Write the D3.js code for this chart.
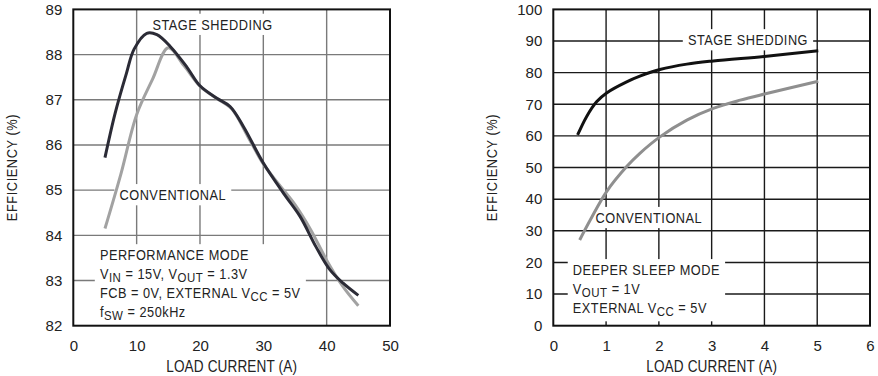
<!DOCTYPE html>
<html>
<head>
<meta charset="utf-8">
<script src="https://cdn.jsdelivr.net/npm/d3@7"></script>
<style>
	body { margin: 0; background: #fff; }
	svg text { font-family: "Liberation Sans", Arial, sans-serif; fill: #222; }
</style>
</head>
<body>
<div id="chart"></div>
<script>
// Left panel: performance mode (load current in A, efficiency in %)
const perfXTicks = [0, 10, 20, 30, 40, 50];
const perfYTicks = [82, 83, 84, 85, 86, 87, 88, 89];
const perfStageLoad = [5, 6.6, 8.4, 9.6, 11.6, 13.2, 15.3, 17.9, 20, 22.6, 24.75, 26.85, 30, 33.2, 35.8, 38.3, 40.5, 42.6, 45];
const perfStageEff  = [85.72, 86.7, 87.59, 88.12, 88.47, 88.44, 88.18, 87.73, 87.31, 87.04, 86.85, 86.41, 85.6, 84.93, 84.42, 83.75, 83.24, 82.94, 82.67];
const perfConvLoad = [5, 7.5, 10, 12.5, 15, 17.5, 20, 22.5, 25, 27.5, 30, 32.5, 35, 37.5, 40, 42.5, 45];
const perfConvEff  = [84.15, 85.35, 86.67, 87.45, 88.15, 87.75, 87.3, 87.04, 86.8, 86.2, 85.58, 85.12, 84.68, 84.12, 83.45, 82.88, 82.44];

// Right panel: deeper sleep mode
const sleepXTicks = [0, 1, 2, 3, 4, 5, 6];
const sleepYTicks = [0, 10, 20, 30, 40, 50, 60, 70, 80, 90, 100];
const sleepStageLoad = [0.46, 0.63, 0.82, 1.01, 1.39, 1.64, 2.02, 2.53, 3.03, 4.04, 5.02];
const sleepStageEff  = [60.3, 66.1, 70.8, 73.6, 77.1, 78.9, 81.0, 82.7, 83.7, 85.2, 86.9];
const sleepConvLoad = [0.5, 0.7, 1.01, 1.39, 1.64, 2.02, 2.53, 3.03, 3.54, 4.04, 5.02];
const sleepConvEff  = [27.1, 33.4, 42.4, 50.3, 54.5, 59.7, 65.0, 68.7, 71.3, 73.4, 77.3];

// Annotations: [x, y] in data units, text lines ("_{..}" = subscript)
const perfNotes = [
	{ at: [12.5, 88.55], lines: ["STAGE SHEDDING"] },
	{ at: [7.3, 84.78], lines: ["CONVENTIONAL"] },
	{ at: [4.2, 83.45], lines: ["PERFORMANCE MODE", "V_{IN} = 15V, V_{OUT} = 1.3V", "FCB = 0V, EXTERNAL V_{CC} = 5V", "f_{SW} = 250kHz"] }
];
const sleepNotes = [
	{ at: [2.55, 88.7], lines: ["STAGE SHEDDING"] },
	{ at: [0.8, 32.5], lines: ["CONVENTIONAL"] },
	{ at: [0.37, 16.0], lines: ["DEEPER SLEEP MODE", "V_{OUT} = 1V", "EXTERNAL V_{CC} = 5V"] }
];

const xTitle = "LOAD CURRENT (A)";
const yTitle = "EFFICIENCY (%)";

const narrow = 0.85;  // the original lettering is a condensed face

const svg = d3.select("#chart").append("svg")
	.attr("width", 878)
	.attr("height", 376);

class EfficiencyFigure {

	constructor(left, top, xTicks, yTicks, gridColor) {
		this.width = 316.7;
		this.height = 316.3;
		this.xTicks = xTicks;
		this.yTicks = yTicks;
		this.gridColor = gridColor;

		this.x = d3.scaleLinear().domain(d3.extent(xTicks)).range([0, this.width]);
		this.y = d3.scaleLinear().domain(d3.extent(yTicks)).range([this.height, 0]);

		this.valueline = d3.line()
			.x(d => this.x(d[0]))
			.y(d => this.y(d[1]))
			.curve(d3.curveCatmullRom.alpha(0.5));

		this.g = svg.append("g")
			.attr("transform", "translate(" + left + "," + top + ")");
		this.gridLayer = this.g.append("g");
		this.noteLayer = this.g.append("g");
		this.lineLayer = this.g.append("g");
	}

	drawGrid() {
		// inner grid lines, frame drawn last
		this.gridLayer.selectAll(".vgrid")
			.data(this.xTicks.slice(1, -1)).enter().append("line")
			.attr("x1", d => this.x(d)).attr("x2", d => this.x(d))
			.attr("y1", 0).attr("y2", this.height)
			.attr("stroke", this.gridColor)
			.attr("stroke-width", 1.4);
		this.gridLayer.selectAll(".hgrid")
			.data(this.yTicks.slice(1, -1)).enter().append("line")
			.attr("y1", d => this.y(d)).attr("y2", d => this.y(d))
			.attr("x1", 0).attr("x2", this.width)
			.attr("stroke", this.gridColor)
			.attr("stroke-width", 1.4);
	}

	drawAxes() {
		this.g.append("g")
			.attr("transform", "translate(0," + this.height + ")")
			.call(d3.axisBottom(this.x).tickValues(this.xTicks).tickFormat(d3.format("d")).tickSize(0).tickPadding(15))
			.call(g => g.select(".domain").remove())
			.selectAll("text")
				.style("font-size", "15px")
				.style("font-family", "'Liberation Sans', Arial, sans-serif")
				.style("fill", "#222");

		this.g.append("g")
			.call(d3.axisLeft(this.y).tickValues(this.yTicks).tickFormat(d3.format("d")).tickSize(0).tickPadding(11))
			.call(g => g.select(".domain").remove())
			.selectAll("text")
				.style("font-size", "15px")
				.style("font-family", "'Liberation Sans', Arial, sans-serif")
				.style("fill", "#222");

		// X LABEL
		this.g.append("g")
			.attr("transform", "translate(" + this.width / 2 + "," + (this.height + 46) + ") scale(" + narrow + ",1)")
			.append("text")
				.style("text-anchor", "middle")
				.style("font-size", "16px")
				.style("letter-spacing", "0.15px")
				.text(xTitle);

		// Y LABEL
		this.g.append("g")
			.attr("transform", "translate(-56," + this.height / 2 + ") rotate(-90) scale(" + narrow + ",1)")
			.append("text")
				.style("text-anchor", "middle")
				.style("font-size", "15px")
				.style("letter-spacing", "0.7px")
				.text(yTitle);
	}

	drawNotes(notes) {
		notes.forEach(n => {
			const holder = this.noteLayer.append("g")
				.attr("transform", "translate(" + this.x(n.at[0]) + "," + this.y(n.at[1]) + ") scale(" + narrow + ",1)");
			const t = holder.append("text")
				.style("font-size", "15px")
				.style("letter-spacing", "0.6px");
			let shift = 0;
			n.lines.forEach((line, i) => {
				const parts = line.split(/(_\{[^}]*\})/).filter(s => s.length);
				parts.forEach((p, j) => {
					const ts = t.append("tspan");
					let dy = 0;
					if (j == 0) {
						ts.attr("x", 0);
						dy = (i == 0 ? 0 : 19) - shift;
						shift = 0;
					}
					if (p.startsWith("_{")) {
						dy += 3 - shift;
						shift = 3;
						ts.style("font-size", "13.5px").text(p.slice(2, -1));
					} else {
						dy -= shift;
						shift = 0;
						ts.text(p);
					}
					if (dy != 0) ts.attr("dy", dy);
				});
			});
			const b = t.node().getBBox();
			holder.insert("rect", "text")
				.attr("x", b.x - 6).attr("y", b.y - 2)
				.attr("width", b.width + 12).attr("height", b.height + 4)
				.attr("fill", "#fff");
		});
	}

	drawLines(series) {
		series.forEach(s => {
			this.lineLayer.append("path")
				.datum(d3.zip(s.load, s.eff))
				.attr("d", this.valueline)
				.attr("fill", "none")
				.attr("stroke", s.color)
				.attr("stroke-width", 3)
				.attr("stroke-linejoin", "round");
		});
	}

	drawFrame() {
		this.g.append("rect")
			.attr("width", this.width)
			.attr("height", this.height)
			.attr("fill", "none")
			.attr("stroke", "#111")
			.attr("stroke-width", 2);
	}
}

const perf = new EfficiencyFigure(73.3, 9.4, perfXTicks, perfYTicks, "#7a7a7a");
perf.drawGrid();
perf.drawAxes();
perf.drawNotes(perfNotes);
perf.drawLines([
	{ load: perfConvLoad, eff: perfConvEff, color: "#a2a2a2" },
	{ load: perfStageLoad, eff: perfStageEff, color: "#2b2b36" }
]);
perf.drawFrame();

const sleep = new EfficiencyFigure(553.3, 9.4, sleepXTicks, sleepYTicks, "#1a1a1a");
sleep.drawGrid();
sleep.drawAxes();
sleep.drawNotes(sleepNotes);
sleep.drawLines([
	{ load: sleepConvLoad, eff: sleepConvEff, color: "#8f8f8f" },
	{ load: sleepStageLoad, eff: sleepStageEff, color: "#111" }
]);
sleep.drawFrame();
</script>
</body>
</html>
